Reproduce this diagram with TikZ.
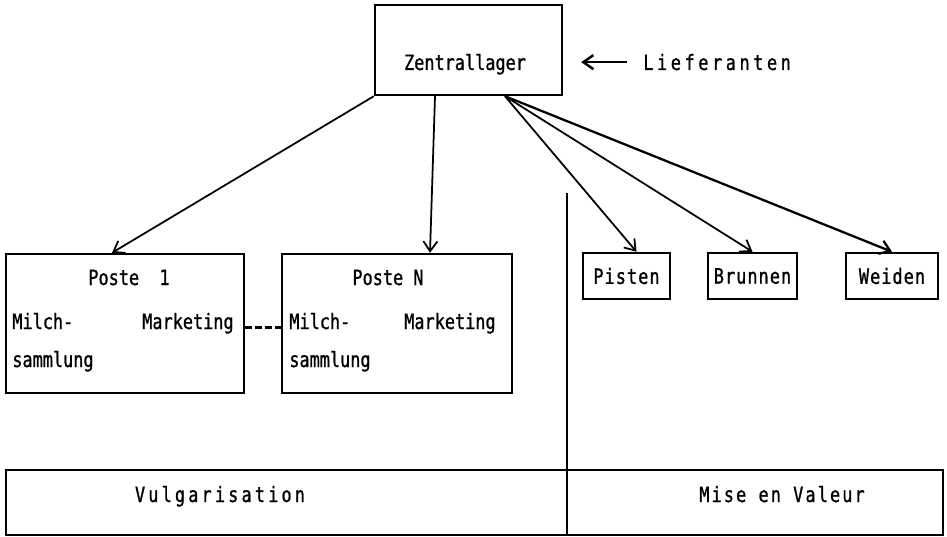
\documentclass[tikz,border=0pt]{standalone}
\usepackage{fontspec}
\newfontfamily\typew[FakeStretch=0.8, FakeBold=1]{DejaVu Sans Mono}
\usetikzlibrary{positioning, arrows.meta}

\tikzset{
  box/.style={draw, line width=1.4pt, inner sep=0pt, font=\typew\fontsize{12}{14}\selectfont},
  txt/.style={font=\typew\fontsize{12}{14}\selectfont, inner sep=0pt},
  spaced/.style={txt, font=\typew\fontsize{12}{14}\selectfont\addfontfeature{LetterSpace=#1}},
  link/.style={-{Straight Barb[length=2mm, width=2.8mm]}, line width=1pt},
}

\begin{document}
\begin{tikzpicture}[x=0.02cm, y=-0.02cm]
\useasboundingbox (0,0) rectangle (947,537);

% boxes
\node[box, minimum width=3.74cm, minimum height=1.8cm] (zl) at (468.5,50) {};
\node[box, minimum width=4.76cm, minimum height=2.78cm] (p1) at (125,323.5) {};
\node[box, minimum width=4.6cm, minimum height=2.78cm] (pn) at (397,323.5) {};
\node[box, minimum width=1.74cm, minimum height=0.92cm] (pis) at (626.5,276) {\addfontfeature{LetterSpace=5}Pisten};
\node[box, minimum width=1.78cm, minimum height=0.92cm] (brn) at (752.5,276) {\addfontfeature{LetterSpace=5}Brunnen};
\node[box, minimum width=1.84cm, minimum height=0.92cm] (wei) at (892,276) {\addfontfeature{LetterSpace=5}Weiden};
\node[box, minimum width=18.74cm, minimum height=1.3cm] (vb) at (474.5,502.5) {};

% texts
\node[txt, anchor=base] (zlt) at (465,70) {Zentrallager};
\node[spaced=17, anchor=base west] (lief) at (643,70) {Lieferanten};

\node[txt, anchor=base] (p1t) at (129,285) {Poste~~1};
\node[txt, anchor=base west] (p1m) at (12,329) {Milch-};
\node[txt, anchor=base east] (p1k) at (234,329) {Marketing};
\node[txt, anchor=base west] (p1s) at (12,367) {sammlung};

\node[txt, anchor=base] (pnt) at (388,285) {Poste~N};
\node[txt, anchor=base west] (pnm) at (289,329) {Milch-};
\node[txt, anchor=base east] (pnk) at (496,329) {Marketing};
\node[txt, anchor=base west] (pns) at (289,367) {sammlung};

\node[spaced=15, anchor=base] (vul) at (220,502) {Vulgarisation};
\node[spaced=10, anchor=base] (mev) at (782,502) {Mise en Valeur};

% connectors
\coordinate (fan) at ([xshift=0.73cm]zl.south);
\draw[link] (zl.south west) -- ([xshift=-0.26cm]p1.north);
\draw[link] ([xshift=-0.67cm]zl.south) -- ([xshift=0.66cm]pn.north);
\draw[link] (fan) -- ([xshift=0.2cm]pis.north);
\draw[link] (fan) -- (brn.north);
\draw[link, line width=1.3pt] (fan) -- (wei.north);

\draw[link, line width=1.4pt] ([xshift=-0.32cm]lief.west) -- ([xshift=0.36cm]zl.east |- lief.west);

\draw[line width=1.5pt, dash pattern=on 0.13cm off 0.07cm] ([yshift=-0.08cm]p1.east) -- ([yshift=-0.08cm]pn.west);

% divider
\coordinate (divtop) at (567,193);
\draw[line width=1pt] (divtop) -- (divtop |- vb.south);

\end{tikzpicture}
\end{document}
